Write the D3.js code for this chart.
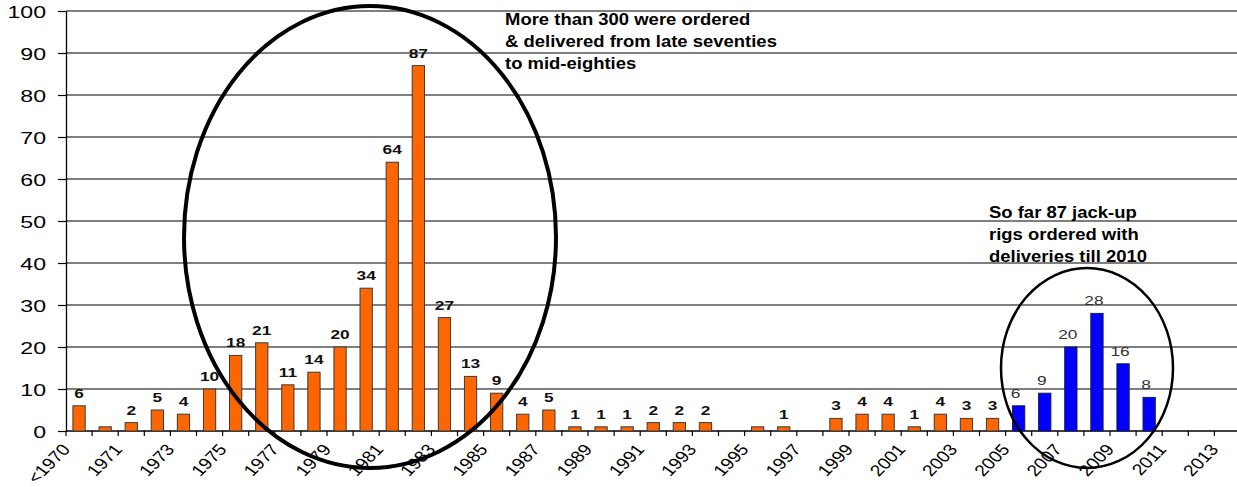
<!DOCTYPE html>
<html>
<head>
<meta charset="utf-8">
<script src="https://cdn.jsdelivr.net/npm/d3@7"></script>
<style>
  html, body { margin: 0; padding: 0; background: #fff; }
  svg { display: block; }
  text { font-family: "Liberation Sans", Arial, Helvetica, sans-serif; }
</style>
</head>
<body>
<svg id="chart" width="1237" height="487"></svg>
<script>
// Jack-up rig deliveries per year
const categories = ["<1970", "1970", "1971", "1972", "1973", "1974", "1975", "1976", "1977", "1978",
  "1979", "1980", "1981", "1982", "1983", "1984", "1985", "1986", "1987", "1988",
  "1989", "1990", "1991", "1992", "1993", "1994", "1995", "1996", "1997", "1998",
  "1999", "2000", "2001", "2002", "2003", "2004", "2005", "2006", "2007", "2008",
  "2009", "2010", "2011", "2012", "2013"];

// delivered rigs (orange)
const delivered = [6, 1, 2, 5, 4, 10, 18, 21, 11, 14,
  20, 34, 64, 87, 27, 13, 9, 4, 5, 1,
  1, 1, 2, 2, 2, 0, 1, 1, 0, 3,
  4, 4, 1, 4, 3, 3, 0, 0, 0, 0,
  0, 0, 0, 0, 0];

// rigs on order (blue)
const ordered = [0, 0, 0, 0, 0, 0, 0, 0, 0, 0,
  0, 0, 0, 0, 0, 0, 0, 0, 0, 0,
  0, 0, 0, 0, 0, 0, 0, 0, 0, 0,
  0, 0, 0, 0, 0, 0, 6, 9, 20, 28,
  16, 8, 0, 0, 0];

// years whose small bars carry no value label
const unlabeled = ["1970", "1995"];

const yTicks = [0, 10, 20, 30, 40, 50, 60, 70, 80, 90, 100];
const xTickLabels = categories.filter((d, i) => i % 2 === 0);

const notes = [
  ["More than 300 were ordered", "& delivered from late seventies", "to mid-eighties"],
  ["So far 87 jack-up", "rigs ordered with", "deliveries till 2010"]
];

const svg = d3.select("#chart");
const plotLeft = 66, plotRight = 1240.5, plotTop = 11, plotBottom = 431;
const sx = 1.42; // horizontal stretch of chart lettering

const x = d3.scaleBand().domain(categories).range([plotLeft, plotRight])
  .paddingInner(0.53).paddingOuter(0.265);
const y = d3.scaleLinear().domain([0, 100]).range([plotBottom, plotTop]);
const step = x.step();

// horizontal gridlines
svg.append("g").selectAll("line").data(yTicks.filter(d => d > 0)).join("line")
  .attr("x1", plotLeft).attr("x2", 1237)
  .attr("y1", d => y(d)).attr("y2", d => y(d))
  .attr("stroke", "#000").attr("stroke-width", 1.2);

// y axis
const yAxis = svg.append("g").attr("transform", `translate(${plotLeft},0)`)
  .call(d3.axisLeft(y).tickValues(yTicks).tickSize(8).tickSizeOuter(0));
yAxis.select(".domain").attr("stroke", "#000").attr("stroke-width", 1.3);
yAxis.selectAll(".tick line").attr("stroke", "#000").attr("stroke-width", 1.2);
yAxis.selectAll(".tick text")
  .attr("x", 0).attr("dy", null)
  .attr("font-size", 16.3).attr("fill", "#000")
  .attr("text-anchor", "end")
  .attr("transform", `translate(-20,6) scale(${sx},1)`);

// x axis baseline + boundary ticks
svg.append("line").attr("x1", plotLeft).attr("x2", 1237)
  .attr("y1", plotBottom).attr("y2", plotBottom)
  .attr("stroke", "#000").attr("stroke-width", 1.3);
const bounds = categories.map(c => x(c) - (step - x.bandwidth()) / 2).concat([plotRight]);
svg.append("g").selectAll("line").data(bounds).join("line")
  .attr("x1", d => d).attr("x2", d => d)
  .attr("y1", plotBottom).attr("y2", plotBottom + 5)
  .attr("stroke", "#000").attr("stroke-width", 1.2);

const xAxis = svg.append("g").attr("transform", `translate(0,${plotBottom})`)
  .call(d3.axisBottom(x).tickValues(xTickLabels).tickSize(0).tickSizeOuter(0));
xAxis.select(".domain").remove();
xAxis.selectAll(".tick text")
  .attr("y", 0).attr("dy", null)
  .attr("font-size", 16).attr("fill", "#000")
  .attr("text-anchor", "end")
  .attr("transform", "translate(-8,19) scale(1.2,1) rotate(-50)");

// bars
const bw = x.bandwidth();
svg.append("g").selectAll("rect").data(categories.map((c, i) => [c, delivered[i]]).filter(d => d[1] > 0))
  .join("rect")
  .attr("x", d => x(d[0])).attr("width", bw)
  .attr("y", d => y(d[1])).attr("height", d => y(0) - y(d[1]))
  .attr("fill", "#FF6600").attr("stroke", "#3a3a3a").attr("stroke-width", 1);

svg.append("g").selectAll("rect").data(categories.map((c, i) => [c, ordered[i]]).filter(d => d[1] > 0))
  .join("rect")
  .attr("x", d => x(d[0])).attr("width", bw)
  .attr("y", d => y(d[1])).attr("height", d => y(0) - y(d[1]))
  .attr("fill", "#0000FF").attr("stroke", "#1a1a4a").attr("stroke-width", 1);

// value labels
svg.append("g").selectAll("text")
  .data(categories.map((c, i) => [c, delivered[i]]).filter(d => d[1] > 0 && !unlabeled.includes(d[0])))
  .join("text")
  .attr("transform", d => `translate(${x(d[0]) + bw / 2},${y(d[1]) - 8}) scale(${sx},1)`)
  .attr("text-anchor", "middle").attr("font-size", 12.2).attr("font-weight", "bold")
  .attr("fill", "#111").text(d => d[1]);

svg.append("g").selectAll("text")
  .data(categories.map((c, i) => [c, ordered[i]]).filter(d => d[1] > 0))
  .join("text")
  .attr("transform", d => `translate(${x(d[0]) + bw / 2 - 3},${y(d[1]) - 8}) scale(${sx},1)`)
  .attr("text-anchor", "middle").attr("font-size", 12.2)
  .attr("fill", "#333").text(d => d[1]);

// highlight ellipses
svg.append("ellipse").attr("cx", 370).attr("cy", 237).attr("rx", 186).attr("ry", 231)
  .attr("fill", "none").attr("stroke", "#000").attr("stroke-width", 4);
svg.append("ellipse").attr("cx", 1087).attr("cy", 368).attr("rx", 86).attr("ry", 100)
  .attr("fill", "none").attr("stroke", "#000").attr("stroke-width", 2.5);

// annotation text
const noteAt = [[505, 25], [989, 218]];
notes.forEach((lines, k) => {
  const g = svg.append("g").attr("transform", `translate(${noteAt[k][0]},${noteAt[k][1]}) scale(1.12,1)`);
  g.selectAll("text").data(lines).join("text")
    .attr("x", 0).attr("y", (d, i) => i * 22)
    .attr("font-size", 16.5).attr("font-weight", "bold").attr("fill", "#000")
    .text(d => d);
});
</script>
</body>
</html>
